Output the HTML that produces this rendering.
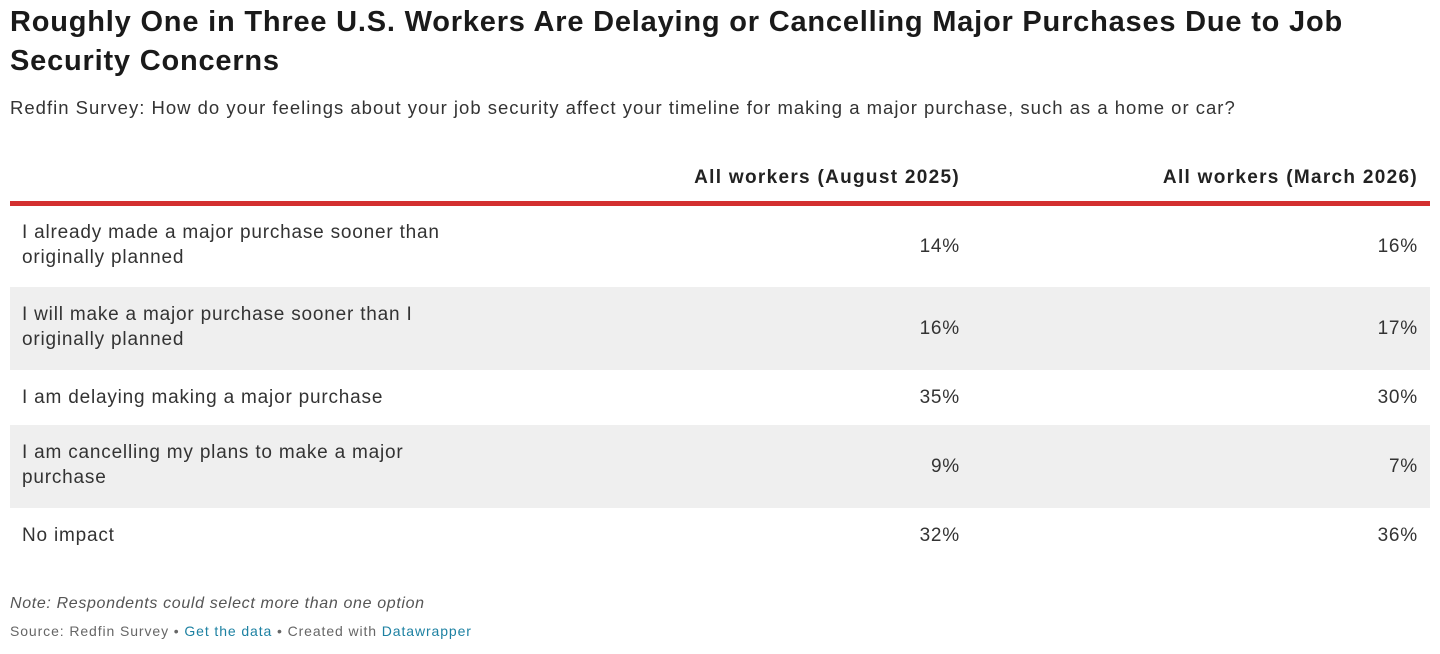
<!DOCTYPE html>
<html><head><meta charset="utf-8"><style>
body{margin:0;width:1440px;height:654px;background:#fff;font-family:"Liberation Sans",sans-serif;color:#222;position:relative;overflow:hidden}
.a{position:absolute;white-space:nowrap}
h1{position:absolute;left:10px;top:3px;margin:0;font-size:29px;letter-spacing:0.8px;line-height:39px;font-weight:bold;color:#1a1a1a;width:1420px}
.sub{left:10px;top:97px;font-size:18.5px;letter-spacing:1px;color:#333}
.hd{top:167px;font-size:19px;letter-spacing:1.3px;font-weight:bold;color:#222}
.red{left:10px;top:201px;width:1420px;height:5px;background:#d32f2f;position:absolute}
.row{position:absolute;left:10px;width:1420px;font-size:19px;letter-spacing:0.8px;color:#333}
.row .l{position:absolute;left:12px;line-height:25px}
.row .v1{position:absolute;right:470px;line-height:25px}
.row .v2{position:absolute;right:12px;line-height:25px}
.g{background:#efefef}
.note{left:10px;top:595px;font-size:16px;letter-spacing:0.65px;font-style:italic;color:#555}
.src{left:10px;top:623px;font-size:14px;letter-spacing:0.9px;color:#666}
.src b{font-weight:normal;color:#1d81a2}
</style></head><body>
<h1>Roughly One in Three U.S. Workers Are Delaying or Cancelling Major Purchases Due to Job<br>Security Concerns</h1>
<div class="a sub">Redfin Survey: How do your feelings about your job security affect your timeline for making a major purchase, such as a home or car?</div>
<div class="a hd" style="right:480px">All workers (August 2025)</div>
<div class="a hd" style="right:22px">All workers (March 2026)</div>
<div class="red"></div>
<div class="row" style="top:206px;height:81px"><div class="l" style="top:14px">I already made a major purchase sooner than<br>originally planned</div><div class="v1" style="top:28px">14%</div><div class="v2" style="top:28px">16%</div></div>
<div class="row g" style="top:287px;height:83px"><div class="l" style="top:15px">I will make a major purchase sooner than I<br>originally planned</div><div class="v1" style="top:29px">16%</div><div class="v2" style="top:29px">17%</div></div>
<div class="row" style="top:370px;height:55px"><div class="l" style="top:15px">I am delaying making a major purchase</div><div class="v1" style="top:15px">35%</div><div class="v2" style="top:15px">30%</div></div>
<div class="row g" style="top:425px;height:83px"><div class="l" style="top:15px">I am cancelling my plans to make a major<br>purchase</div><div class="v1" style="top:29px">9%</div><div class="v2" style="top:29px">7%</div></div>
<div class="row" style="top:508px;height:57px"><div class="l" style="top:15px">No impact</div><div class="v1" style="top:15px">32%</div><div class="v2" style="top:15px">36%</div></div>
<div class="a note">Note: Respondents could select more than one option</div>
<div class="a src">Source: Redfin Survey • <b>Get the data</b> • Created with <b>Datawrapper</b></div>
</body></html>
